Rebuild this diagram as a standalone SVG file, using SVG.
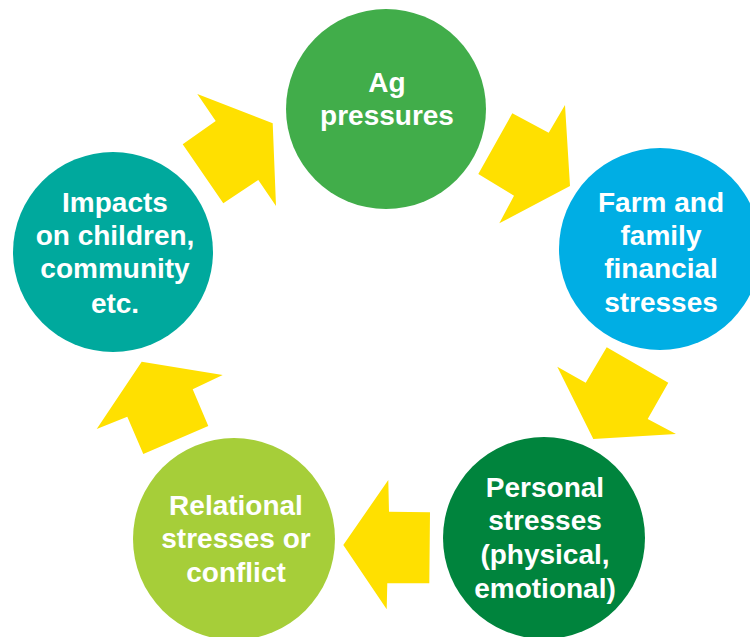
<svg xmlns="http://www.w3.org/2000/svg" width="750" height="637" viewBox="0 0 750 637">
<style>
.lbl{font-family:"Liberation Sans",Arial,sans-serif;font-weight:bold;font-size:28px;fill:#ffffff;text-anchor:middle}
.arr{fill:#FFE000}
</style>
<rect x="0" y="0" width="750" height="637" fill="#ffffff"/>
<g id="connectors">
<polygon class="arr" points="197.3,94 272.7,123.3 276,206 258.3,180 223.3,203.3 182.7,144.3 215.7,121"/>
<polygon class="arr" points="512.3,113.3 548.7,132.7 565,105 570,186 499.3,223.3 514,195.7 478.3,174"/>
<polygon class="arr" points="606.7,347.3 668.3,382.7 647.7,419 676,434 593.3,439 557.3,366.7 585.7,382.7"/>
<polygon class="arr" points="388.3,480 389,511.7 430,512.3 429.3,583.3 387.3,583.3 386.7,609.3 343.3,545"/>
<polygon class="arr" points="141.7,361.7 222.7,375 192.7,389.3 208.3,426 143.3,454 127.3,416.7 96.7,429"/>
</g>
<g id="ag">
<circle cx="386" cy="109" r="100" fill="#41AD4A"/>
<text class="lbl" x="387" y="92">Ag</text>
<text class="lbl" x="387" y="125">pressures</text>
</g>
<g id="farm">
<circle cx="660" cy="249" r="101" fill="#00AEE4"/>
<text class="lbl" x="661" y="212">Farm and</text>
<text class="lbl" x="661" y="245">family</text>
<text class="lbl" x="661" y="278">financial</text>
<text class="lbl" x="661" y="312">stresses</text>
</g>
<g id="personal">
<circle cx="544" cy="538" r="101" fill="#00843D"/>
<text class="lbl" x="545" y="497">Personal</text>
<text class="lbl" x="545" y="530">stresses</text>
<text class="lbl" x="545" y="564">(physical,</text>
<text class="lbl" x="545" y="598">emotional)</text>
</g>
<g id="relational">
<circle cx="234" cy="539" r="101" fill="#A6CE39"/>
<text class="lbl" x="236" y="515">Relational</text>
<text class="lbl" x="236" y="548">stresses or</text>
<text class="lbl" x="236" y="582">conflict</text>
</g>
<g id="impacts">
<circle cx="113" cy="252" r="100" fill="#00A99D"/>
<text class="lbl" x="115" y="212">Impacts</text>
<text class="lbl" x="115" y="245">on children,</text>
<text class="lbl" x="115" y="278">community</text>
<text class="lbl" x="115" y="313">etc.</text>
</g>
</svg>
